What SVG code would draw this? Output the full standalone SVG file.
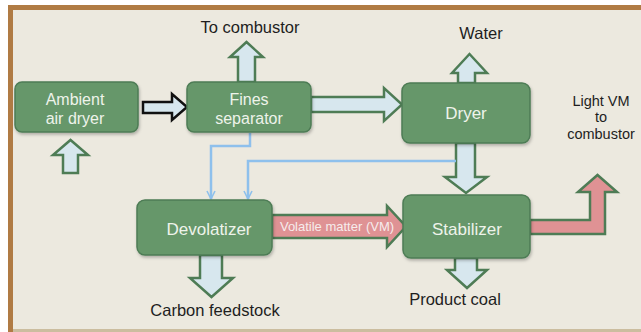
<svg xmlns="http://www.w3.org/2000/svg" width="641" height="332" viewBox="0 0 641 332">
  <defs>
    <style>
      .node rect { fill: #66976b; stroke: #4e7c55; stroke-width: 1.5; }
      .node text { fill: #eef3ea; font-family: "Liberation Sans", Arial, sans-serif; font-size: 17px; text-anchor: middle; }
      .node text.two { font-size: 16px; }
      .label { fill: #1e1e1e; font-family: "Liberation Sans", Arial, sans-serif; font-size: 16.5px; text-anchor: middle; }
      .label.small { font-size: 14.5px; }
      .flow { fill: #d7e7ee; stroke: #4e7c55; stroke-width: 2.5; stroke-linejoin: miter; }
      .flow-dark { fill: #d7e7ee; stroke: #111; stroke-width: 2.5; }
      .vm { fill: #df9294; stroke: #4e7c55; stroke-width: 2.5; }
      .vm-text { fill: #f6ecec; font-family: "Liberation Sans", Arial, sans-serif; font-size: 13px; text-anchor: middle; }
      .feed { fill: none; stroke: #8ec0ec; stroke-width: 2.5; }
    </style>
    <marker id="chev" viewBox="0 0 10 10" refX="9" refY="5" markerWidth="10" markerHeight="10" markerUnits="userSpaceOnUse" orient="auto">
      <path d="M1,1 L9,5 L1,9" fill="none" stroke="#8ec0ec" stroke-width="1.6"/>
    </marker>
    <filter id="shadow" x="-10%" y="-10%" width="125%" height="135%">
      <feDropShadow dx="1" dy="2" stdDeviation="1.5" flood-color="#000" flood-opacity="0.25"/>
    </filter>
  </defs>

  <!-- page and frame -->
  <rect x="0" y="0" width="641" height="332" fill="#ffffff"/>
  <rect x="8" y="5" width="633" height="327" fill="#ece9df"/>
  <rect x="8" y="5" width="633" height="5" fill="#b07b44"/>
  <rect x="8" y="5" width="5" height="327" fill="#b07b44"/>
  <rect x="13" y="329" width="628" height="3" fill="#cbbd9f"/>

  <!-- connectors -->
  <g id="connectors">
    <!-- ambient air in -->
    <path class="flow" d="M63,173 V155 H53 L70.5,140 L88,155 H78 V173 Z"/>
    <!-- ambient air dryer to fines separator -->
    <path class="flow-dark" d="M143,102 H172 V94 L187,107 L172,120 V113 H143 Z"/>
    <!-- fines to combustor -->
    <path class="flow" d="M238,82 V57 H230 L246.5,42 L263,57 H255 V82 Z"/>
    <!-- fines separator to dryer -->
    <path class="flow" d="M311,97 H384 V88 L402,104.5 L384,121 V112 H311 Z"/>
    <!-- water out -->
    <path class="flow" d="M458,83 V73 H452 L469.5,54 L487,73 H475 V83 Z"/>
    <!-- dryer to stabilizer -->
    <path class="flow" d="M456,143 V177 H445 L466,193 L487,177 H475 V143 Z"/>
    <!-- product coal -->
    <path class="flow" d="M455,258 V270 H447 L467,288 L487,270 H477 V258 Z"/>
    <!-- carbon feedstock -->
    <path class="flow" d="M200,255 V278 H190 L211.5,297 L233,278 H222 V255 Z"/>
    <!-- volatile matter -->
    <path class="vm" d="M272,215 H387 V206 L406,226.5 L387,247 V238 H272 Z"/>
    <text class="vm-text" x="337" y="231">Volatile matter (VM)</text>
    <!-- light VM out -->
    <path class="vm" d="M530,220 H590 V192 H578 L597.5,175 L617,192 H605 V234 H530 Z"/>
    <!-- fines and dried stream feed lines -->
    <path class="feed" d="M250,133 V146 H211 V199" marker-end="url(#chev)"/>
    <path class="feed" d="M456,161 H248 V199" marker-end="url(#chev)"/>
  </g>

  <!-- nodes -->
  <g id="ambient-air-dryer" class="node">
    <rect x="15" y="82" width="123" height="50" rx="7" filter="url(#shadow)"/>
    <text class="two" x="75" y="105">Ambient</text>
    <text class="two" x="75" y="124">air dryer</text>
  </g>
  <g id="fines-separator" class="node">
    <rect x="187" y="82" width="124" height="50" rx="7" filter="url(#shadow)"/>
    <text class="two" x="249" y="105">Fines</text>
    <text class="two" x="249" y="124">separator</text>
  </g>
  <g id="dryer" class="node">
    <rect x="402" y="83" width="128" height="60" rx="8" filter="url(#shadow)"/>
    <text x="466" y="119">Dryer</text>
  </g>
  <g id="devolatizer" class="node">
    <rect x="137" y="200" width="135" height="55" rx="8" filter="url(#shadow)"/>
    <text x="209" y="235">Devolatizer</text>
  </g>
  <g id="stabilizer" class="node">
    <rect x="403" y="195" width="127" height="63" rx="8" filter="url(#shadow)"/>
    <text x="467" y="235">Stabilizer</text>
  </g>

  <!-- stream labels -->
  <g id="labels">
    <text class="label" x="250" y="33">To combustor</text>
    <text class="label" x="481" y="39">Water</text>
    <text class="label small" x="601" y="106">Light VM</text>
    <text class="label small" x="601" y="122">to</text>
    <text class="label small" x="601" y="139">combustor</text>
    <text class="label" x="215" y="316">Carbon feedstock</text>
    <text class="label" x="455" y="305">Product coal</text>
  </g>
</svg>
